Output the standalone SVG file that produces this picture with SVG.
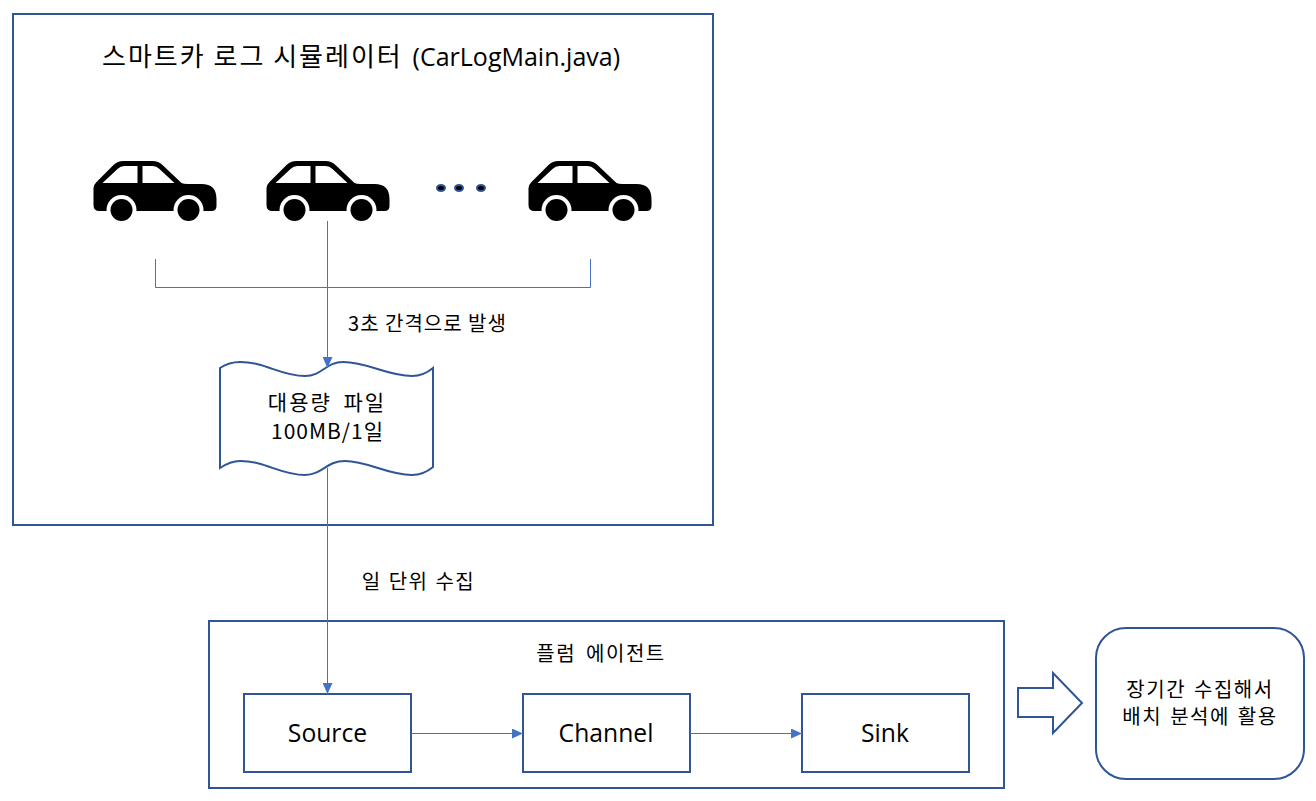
<svg xmlns="http://www.w3.org/2000/svg" xmlns:xlink="http://www.w3.org/1999/xlink" width="1316" height="801" viewBox="0 0 1316 801">
<style>
.b{fill:#fff;stroke:#2f5597;stroke-width:2}
.c{fill:none;stroke:#4472c4;stroke-width:1}
text{font-family:"Noto Sans CJK KR","Open Sans",sans-serif;fill:#000;text-anchor:middle;font-size:20px}
.f{font-family:"Open Sans","Noto Sans CJK KR",sans-serif;font-size:24.7px}
</style>
<defs>
<marker id="a" markerUnits="userSpaceOnUse" markerWidth="12" markerHeight="10" refX="11" refY="5" orient="auto"><path d="M0 0L11 5L0 10z" fill="#4472c4"/></marker>
<g id="car">
<path d="M0 27Q0 24 3 21L20 4Q24 0 30 0H59Q65 0 69 4L88 22Q90 23 94 23H108Q123 23 123 38V45Q123 50 118 50H6Q0 50 0 44z" fill="#000"/>
<path d="M9 22L24 8Q27 5 31 5H44V22zM49 5H59Q63 5 66 8L81 22H49z" fill="#fff"/>
<circle cx="28" cy="49" r="15" fill="#fff"/><circle cx="95" cy="49" r="15" fill="#fff"/>
<circle cx="28" cy="49" r="11" fill="#000"/><circle cx="95" cy="49" r="11" fill="#000"/>
</g>
</defs>
<g id="simulator"><rect class="b" x="13" y="14" width="700" height="511"/><text x="102" y="66" style="text-anchor:start;font-size:26px;letter-spacing:2px">스마트카 로그 시뮬레이터 <tspan dx="2" style="font-family:'Open Sans',sans-serif;font-size:25px;letter-spacing:0">(CarLogMain.java)</tspan></text></g>
<g id="car1"><use xlink:href="#car" href="#car" x="93.5" y="161"/></g>
<g id="car2"><use xlink:href="#car" href="#car" x="266.5" y="161"/></g>
<g id="car3"><use xlink:href="#car" href="#car" x="528.5" y="161"/></g>
<g id="dots" fill="#000" stroke="#2f5597" stroke-width="2"><ellipse cx="441" cy="188" rx="4" ry="3"/><ellipse cx="459" cy="188" rx="4" ry="3"/><ellipse cx="481" cy="188" rx="4" ry="3"/></g>
<g id="file"><path class="b" d="M220 368C226 364 232 362 240 362C266 362 280 376 305 376C322 376 326 362 343 362C368 362 387 376 412 376C420 376 427 373 433 368V467C427 472 420 475 412 475C387 475 368 461 345 461C326 461 322 475 305 475C280 475 266 461 240 461C232 461 226 464 220 468z"/><text x="327" y="410" style="font-size:21px;letter-spacing:2px;word-spacing:5px">대용량 파일</text><text x="327.500" y="439" style="font-size:21px;letter-spacing:1px">100MB/1일</text></g>
<g id="agent"><rect class="b" x="209" y="621" width="795" height="167"/><text x="601" y="661" style="letter-spacing:1.5px;word-spacing:4px">플럼 에이전트</text></g>
<g id="source"><rect class="b" x="244" y="694" width="167" height="78"/><text class="f" x="327.5" y="742">Source</text></g>
<g id="channel"><rect class="b" x="523" y="694" width="167" height="78"/><text class="f" x="606" y="742">Channel</text></g>
<g id="sink"><rect class="b" x="802" y="694" width="167" height="78"/><text class="f" x="885" y="742">Sink</text></g>
<g id="big-arrow"><path class="b" d="M1018 688H1053V673L1082 703L1053 733V717H1018z"/></g>
<g id="batch"><rect class="b" x="1096" y="628" width="208" height="151" rx="30"/><text x="1200" y="697" style="letter-spacing:1.5px;word-spacing:2px">장기간 수집해서</text><text x="1200" y="724" style="letter-spacing:1.5px;word-spacing:2px">배치 분석에 활용</text></g>
<g id="connectors">
<path class="c" d="M155.500 259V287.500H590.500V259"/>
<path class="c" marker-end="url(#a)" d="M327.500 221V368"/>
<path class="c" marker-end="url(#a)" d="M327.500 468V694"/>
<path class="c" marker-end="url(#a)" d="M411 733.500H523"/>
<path class="c" marker-end="url(#a)" d="M690 733.500H802"/>
</g>
<g id="labels"><text x="427.500" y="331" style="letter-spacing:1px">3초 간격으로 발생</text><text x="418.500" y="589" style="letter-spacing:1.5px;word-spacing:1px">일 단위 수집</text></g>
</svg>
